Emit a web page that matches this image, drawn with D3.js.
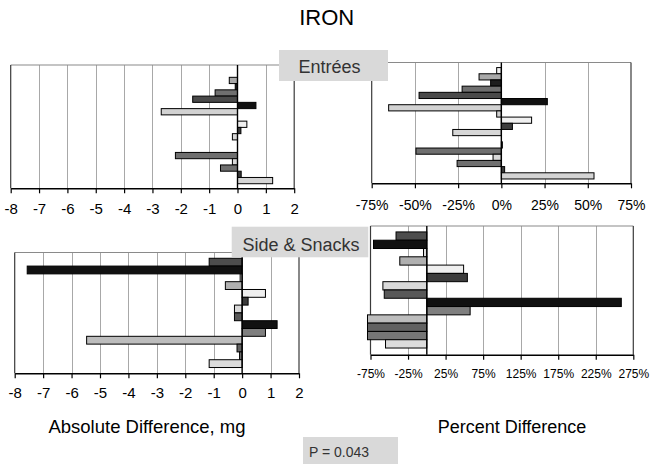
<!DOCTYPE html>
<html>
<head>
<meta charset="utf-8">
<script src="https://cdn.jsdelivr.net/npm/d3@7"></script>
<style>
  html, body { margin: 0; padding: 0; background: #fff; }
  svg { display: block; }
</style>
</head>
<body>
<svg id="chart" width="659" height="467"></svg>
<script>
// ---------------- DATA ----------------
const entreeItems = ["E01","E02","E03","E04","E05","E06","E07","E08","E09","E10","E11","E12","E13","E14","E15","E16","E17","E18"];
const entreeAbsDiff = [0, -0.29, -0.08, -0.79, -1.58, 0.65, -2.69, 0, 0.33, 0.12, -0.18, 0, 0, -2.19, -0.18, -0.60, 0.13, 1.24];
const entreePctDiff = [-2.7, -12.9, -6.2, -22.7, -47.6, 26.6, -65.2, -2.7, 17.5, 6.4, -28.1, 0, 0.6, -49.4, -4.8, -25.6, 1.9, 53.6];

const sideItems = ["S01","S02","S03","S04","S05","S06","S07","S08","S09","S10","S11","S12","S13","S14"];
const sideAbsDiff = [-1.16, -7.56, -0.07, -0.59, 0.82, 0.21, -0.27, -0.27, 1.23, 0.82, -5.47, -0.18, -0.09, -1.16];
const sidePctDiff = [-41, -71, -4.4, -36, 49, 54, -58.5, -56.7, 259, 57.7, -79, -79, -79, -55];

const absTicks = [-8, -7, -6, -5, -4, -3, -2, -1, 0, 1, 2];
const absTickLabels = ["-8", "-7", "-6", "-5", "-4", "-3", "-2", "-1", "0", "1", "2"];
const entreePctTicks = [-75, -50, -25, 0, 25, 50, 75];
const entreePctTickLabels = ["-75%", "-50%", "-25%", "0%", "25%", "50%", "75%"];
const sidePctTicks = [-75, -25, 25, 75, 125, 175, 225, 275];
const sidePctTickLabels = ["-75%", "-25%", "25%", "75%", "125%", "175%", "225%", "275%"];

// ---------------- STYLE ----------------
const entreeFill = ["#f0f0f0","#a9a9a9","#1e1e1e","#6f6f6f","#4a4a4a","#111111","#d2d2d2","#cfcfcf","#f0f0f0","#3c3c3c","#d6d6d6","#9a9a9a","#eeeeee","#6f6f6f","#d8d8d8","#6f6f6f","#3a3a3a","#d4d4d4"];
const sideFill = ["#4d4d4d","#111111","#dddddd","#b0b0b0","#efefef","#3c3c3c","#d9d9d9","#585858","#111111","#7f7f7f","#bdbdbd","#626262","#767676","#dcdcdc"];

const FONT = "'Liberation Sans', Arial, Helvetica, sans-serif";
const svg = d3.select("#chart");

function panel(cfg) {
  const x = d3.scaleLinear().domain(cfg.domain).range([cfg.x0, cfg.x1]);
  const y = d3.scaleBand().domain(cfg.cats).range([cfg.y0, cfg.y1])
    .paddingInner(0).paddingOuter(cfg.outer).align(cfg.align);
  const g = svg.append("g");

  g.append("rect")
    .attr("x", cfg.x0).attr("y", cfg.y0)
    .attr("width", cfg.x1 - cfg.x0).attr("height", cfg.y1 - cfg.y0)
    .attr("fill", "#fff");

  // gridlines
  g.selectAll("line.grid").data(cfg.grid).enter().append("line")
    .attr("class", "grid")
    .attr("x1", d => Math.round(x(d)) + 0.5).attr("x2", d => Math.round(x(d)) + 0.5)
    .attr("y1", cfg.y0).attr("y2", cfg.y1)
    .attr("stroke", "#a8a8a8").attr("stroke-width", 1);

  // borders
  g.append("line").attr("x1", cfg.x0).attr("x2", cfg.x1).attr("y1", cfg.y0).attr("y2", cfg.y0)
    .attr("stroke", "#8a8a8a").attr("stroke-width", 1.2);
  g.append("line").attr("x1", cfg.x0).attr("x2", cfg.x0).attr("y1", cfg.y0).attr("y2", cfg.y1)
    .attr("stroke", "#3a3a3a").attr("stroke-width", 1.2);
  g.append("line").attr("x1", cfg.x1).attr("x2", cfg.x1).attr("y1", cfg.y0).attr("y2", cfg.y1)
    .attr("stroke", "#3a3a3a").attr("stroke-width", 1.2);

  // bars
  g.selectAll("rect.bar").data(cfg.vals).enter().append("rect")
    .attr("class", "bar")
    .attr("x", d => Math.min(x(d), x(0)))
    .attr("width", d => Math.abs(x(d) - x(0)))
    .attr("y", (d, i) => y(cfg.cats[i]))
    .attr("height", y.bandwidth())
    .attr("fill", (d, i) => cfg.fills[i])
    .attr("stroke", "#000").attr("stroke-width", 1);

  // zero (category) axis line
  g.append("line").attr("x1", x(0)).attr("x2", x(0)).attr("y1", cfg.y0).attr("y2", cfg.y1)
    .attr("stroke", "#000").attr("stroke-width", 1.4);

  // value axis
  const axis = d3.axisBottom(x)
    .tickValues(cfg.ticks)
    .tickFormat((d, i) => cfg.labels[i])
    .tickSize(5).tickSizeOuter(0)
    .tickPadding(cfg.pad);
  const ag = g.append("g").attr("transform", `translate(0,${cfg.y1})`).call(axis);
  ag.select(".domain").attr("stroke", "#000").attr("stroke-width", 1.4);
  ag.selectAll(".tick line").attr("stroke", "#000").attr("stroke-width", 1.2);
  ag.selectAll(".tick text")
    .attr("font-family", FONT).attr("font-size", cfg.fs).attr("fill", "#000");
  ag.attr("font-family", FONT).attr("font-size", cfg.fs);
}

// Top-left: Entrées absolute
panel({ x0: 10.7, x1: 294.2, y0: 65, y1: 188.3, domain: [-8, 2],
  cats: entreeItems, vals: entreeAbsDiff, fills: entreeFill,
  ticks: absTicks, labels: absTickLabels, grid: [-7, -6, -5, -4, -3, -2, -1, 1],
  outer: 0.85, align: 0.57, fs: 15, pad: 10 });

// Top-right: Entrées percent
panel({ x0: 371.7, x1: 631, y0: 62.5, y1: 183.3, domain: [-75, 75],
  cats: entreeItems, vals: entreePctDiff, fills: entreeFill,
  ticks: entreePctTicks, labels: entreePctTickLabels, grid: [-50, -25, 25, 50],
  outer: 0.76, align: 0.54, fs: 14, pad: 11.5 });

// Bottom-left: Sides absolute
panel({ x0: 14.7, x1: 299, y0: 252.5, y1: 373.3, domain: [-8, 2],
  cats: sideItems, vals: sideAbsDiff, fills: sideFill,
  ticks: absTicks, labels: absTickLabels, grid: [-7, -6, -5, -4, -3, -2, -1, 1],
  outer: 0.74, align: 0.5, fs: 15, pad: 9 });

// Bottom-right: Sides percent
panel({ x0: 370.5, x1: 633.3, y0: 226, y1: 354.7, domain: [-75, 275],
  cats: sideItems, vals: sidePctDiff, fills: sideFill,
  ticks: sidePctTicks, labels: sidePctTickLabels, grid: [-25, 25, 75, 125, 175, 225],
  outer: 0.76, align: 0.47, fs: 12, pad: 9.8 });

// ---------------- TEXT / LABEL BOXES ----------------
svg.append("text").attr("x", 326.7).attr("y", 25).attr("text-anchor", "middle")
  .attr("font-family", FONT).attr("font-size", 22).attr("fill", "#000").text("IRON");

function labelBox(x, y, w, h, tx, ty, txt, fs, anchor) {
  svg.append("rect").attr("x", x).attr("y", y).attr("width", w).attr("height", h).attr("fill", "#d9d9d9");
  svg.append("text").attr("x", tx).attr("y", ty).attr("text-anchor", anchor)
    .attr("font-family", FONT).attr("font-size", fs).attr("fill", "#333").text(txt);
}
labelBox(279, 50, 109, 31, 329.5, 73, "Entrées", 18, "middle");
labelBox(231.7, 226.7, 136.6, 30.6, 301, 251, "Side & Snacks", 18, "middle");
labelBox(303, 437, 95, 27, 309, 456.5, "P = 0.043", 14, "start");

svg.append("text").attr("x", 147).attr("y", 433).attr("text-anchor", "middle")
  .attr("font-family", FONT).attr("font-size", 18.5).attr("fill", "#000").text("Absolute Difference, mg");
svg.append("text").attr("x", 512).attr("y", 433).attr("text-anchor", "middle")
  .attr("font-family", FONT).attr("font-size", 18).attr("fill", "#000").text("Percent Difference");
</script>
</body>
</html>
